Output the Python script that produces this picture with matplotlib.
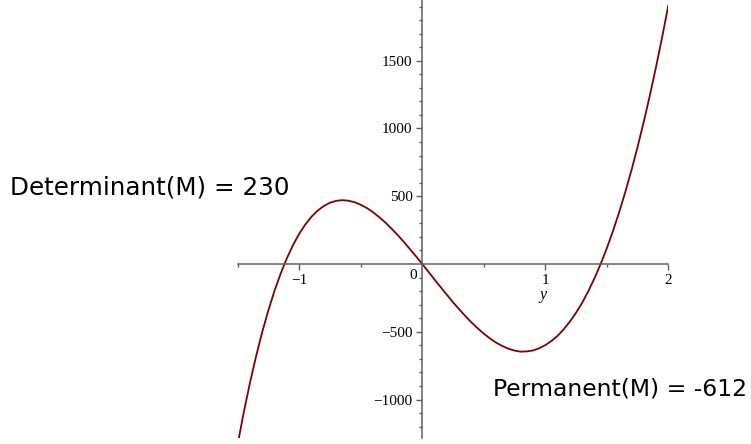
import matplotlib
matplotlib.use("Agg")
import matplotlib.pyplot as plt

# values (every 0.05 in y)
y_vals = [-1.5, -1.45, -1.4, -1.35, -1.3, -1.25, -1.2, -1.15, -1.1, -1.05,
          -1.0, -0.95, -0.9, -0.85, -0.8, -0.75, -0.7, -0.65, -0.6, -0.55,
          -0.5, -0.45, -0.4, -0.35, -0.3, -0.25, -0.2, -0.15, -0.1, -0.05,
          0.0, 0.05, 0.1, 0.15, 0.2, 0.25, 0.3, 0.35, 0.4, 0.45,
          0.5, 0.55, 0.6, 0.65, 0.7, 0.75, 0.8, 0.85, 0.9, 0.95,
          1.0, 1.05, 1.1, 1.15, 1.2, 1.25, 1.3, 1.35, 1.4, 1.45,
          1.5, 1.55, 1.6, 1.65, 1.7, 1.75, 1.8, 1.85, 1.9, 1.95, 2.0]
f_vals = [-1329, -1092, -876, -679, -500, -340, -196, -69, 43, 140,
          223, 292, 349, 394, 428, 452, 466, 471, 467, 456,
          437, 413, 382, 346, 306, 261, 214, 163, 110, 56,
          0, -57, -115, -171, -227, -282, -334, -384, -431, -474,
          -514, -549, -580, -605, -625, -639, -647, -645, -638, -622,
          -599, -568, -530, -482, -425, -360, -286, -200, -105, 0,
          116, 243, 380, 530, 690, 863, 1047, 1244, 1453, 1674, 1908]

x_ticks = [-1, 1, 2]
x_ticklabels = ["\u22121", "1", "2"]
y_ticks = [-1000, -500, 500, 1000, 1500]
y_ticklabels = ["\u22121000", "\u2212500", "500", "1000", "1500"]

det_text = "Determinant(M) = 230"
perm_text = "Permanent(M) = -612"

fig = plt.figure(figsize=(7.51, 4.44), dpi=100)
ax = fig.add_axes([0.3165, 0.0135, 0.5734, 0.9865])

ax.plot(y_vals, f_vals, color="#800000", lw=1.3)

ax.set_xlim(-1.49, 2.0)
ax.set_ylim(-1284, 1948)

axis_col = "#5f5f5f"
for s in ["top", "right"]:
    ax.spines[s].set_visible(False)
ax.spines["left"].set_position(("data", 0))
ax.spines["bottom"].set_position(("data", 0))
ax.spines["left"].set_color(axis_col)
ax.spines["bottom"].set_color(axis_col)
ax.spines["left"].set_linewidth(1.1)
ax.spines["bottom"].set_linewidth(1.1)

ax.set_xticks(x_ticks)
ax.set_xticklabels(x_ticklabels)
ax.set_xticks([-1.5, -0.5, 0.5, 1.5], minor=True)
ax.set_yticks(y_ticks)
ax.set_yticklabels(y_ticklabels)
ax.set_yticks([v for v in range(-1200, 1901, 100) if v % 500 != 0], minor=True)

ax.tick_params(axis="both", which="major", direction="out", length=4, width=1,
               color=axis_col, labelsize=11, pad=3)
ax.tick_params(axis="both", which="minor", direction="out", length=2.5, width=1,
               color=axis_col)
for lab in ax.get_xticklabels() + ax.get_yticklabels():
    lab.set_family("Liberation Serif")

ax.text(-0.04, -40, "0", ha="right", va="top", fontsize=11, family="Liberation Serif")
ax.text(0.98, -230, "y", ha="center", va="center", fontsize=11.5,
        family="Liberation Serif", style="italic")

fig.text(0.0133, 0.5766, det_text, ha="left", va="center", fontsize=17.7, family="DejaVu Sans")
fig.text(747 / 751, 1 - 389 / 444, perm_text, ha="right", va="center", fontsize=16.9,
         family="DejaVu Sans")

fig.savefig("out.png", dpi=100)
